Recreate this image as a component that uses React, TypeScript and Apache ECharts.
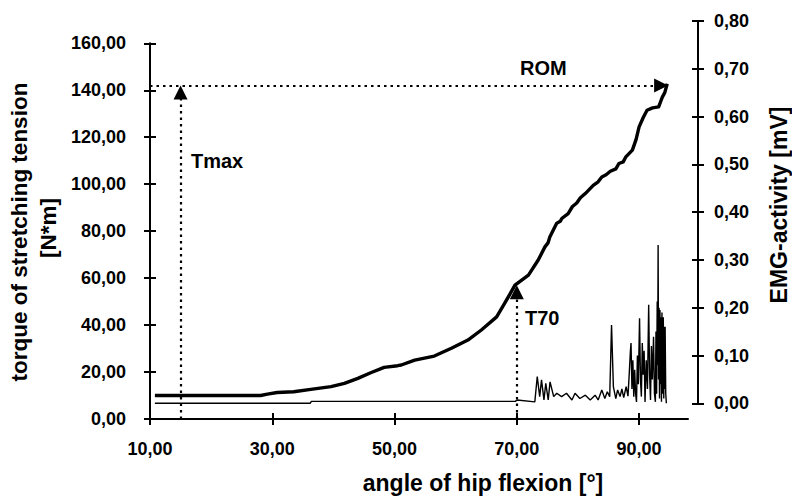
import React, { useEffect, useRef } from "react";
import * as echarts from "echarts";

// torque of stretching tension [N*m] vs angle of hip flexion [°]
const torqueAngle = [10.8, 20, 28.1, 29.2, 30.8, 33.5, 36.3, 39.6, 41.8, 44, 46.1, 48.3, 50.5, 51.1, 53.3, 56.5, 59.3, 62, 64.2, 66.7, 68, 69.7, 71.9, 73.5, 74.6, 75.1, 75.4, 76.5, 77.1, 77.4, 78.4, 79.1, 79.8, 80.4, 81.2, 82.5, 83.3, 83.9, 84.6, 85.3, 86.2, 86.7, 87.4, 87.8, 88.9, 89.5, 90, 90.7, 91.3, 92.2, 93.2, 93.5, 93.8, 94.2, 94.6];
const torqueValue = [10, 10, 10, 10.6, 11.3, 11.6, 12.6, 13.8, 15.2, 17.3, 19.7, 22, 22.7, 23, 25.1, 26.8, 30.1, 33.6, 37.9, 43.5, 49.2, 57, 61.3, 67.7, 73.3, 75, 77.5, 83.3, 84.2, 85.5, 87.5, 90.5, 92, 94.2, 96, 99.5, 101, 103.1, 104, 105.5, 106.5, 108.8, 109.5, 111.5, 114.5, 119, 124.4, 128.5, 131.5, 132.5, 132.9, 135, 137.1, 139, 142.8];

// EMG-activity [mV]
const emgAngle = [10.8, 36.3, 36.5, 70, 70.3, 73.2, 73.6, 74, 74.3, 74.7, 75, 75.4, 75.7, 76.3, 76.8, 77.6, 78.4, 79.3, 79.8, 80.6, 81.5, 82.3, 83.1, 83.6, 84.2, 84.7, 85.1, 85.5, 85.8, 86.1, 86.5, 86.8, 87.2, 87.5, 87.8, 88.2, 88.5, 88.7, 88.9, 89, 89.15, 89.3, 89.45, 89.6, 89.75, 89.9, 90.05, 90.2, 90.4, 90.55, 90.7, 90.85, 91, 91.15, 91.3, 91.5, 91.7, 91.9, 92.05, 92.2, 92.35, 92.5, 92.7, 92.85, 93, 93.1, 93.2, 93.3, 93.38, 93.45, 93.52, 93.6, 93.68, 93.75, 93.82, 93.9, 94, 94.08, 94.15, 94.22, 94.3, 94.38, 94.45, 94.52, 94.6, 94.7, 94.8];
const emgValue = [0, 0, 0.004, 0.004, 0.007, 0.003, 0.056, 0.014, 0.049, 0.007, 0.042, 0.007, 0.045, 0.014, 0.021, 0.014, 0.021, 0.007, 0.021, 0.01, 0.017, 0.007, 0.017, 0.007, 0.028, 0.01, 0.024, 0.014, 0.164, 0.035, 0.01, 0.028, 0.014, 0.03, 0.012, 0.035, 0.015, 0.06, 0.11, 0.126, 0.03, 0.09, 0.014, 0.07, 0.02, 0.003, 0.1, 0.04, 0.178, 0.05, 0.014, 0.126, 0.06, 0.11, 0.003, 0.09, 0.03, 0.206, 0.06, 0.007, 0.12, 0.05, 0.139, 0.02, 0.003, 0.15, 0.02, 0.213, 0.08, 0.331, 0.05, 0.2, 0.01, 0.195, 0.04, 0.18, 0.003, 0.19, 0.02, 0.16, 0.18, 0.01, 0.16, 0.03, 0.16, 0.021, 0];

const xTicks = [10, 30, 50, 70, 90];

// annotations: Tmax at 15°, ROM at ~94°, T70 at 70°
const tmaxAngle = 15;
const tmaxTorque = 139;
const romAngle = 93.6;
const romTorque = 142;
const t70Angle = 70;
const t70Torque = 54;

const fmt = (v: number) => v.toFixed(2).replace(".", ",");

const FONT = '"Liberation Sans", Arial, Helvetica, sans-serif';

export default function App() {
  const ref = useRef<HTMLDivElement>(null);
  useEffect(() => {
    if (!ref.current) return;
    const chart = echarts.init(ref.current, undefined, { renderer: "svg" });
    const black = "#000";
    const labelStyle = { color: black, fontFamily: FONT, fontWeight: "bold" as const, fontSize: 18 };
    const dotted = { color: black, width: 2.2, type: [2.5, 4] as number[] };
    chart.setOption({
      animation: false,
      backgroundColor: "#fff",
      grid: [
        { left: 150, right: 104, top: 43.3, bottom: 77, containLabel: false },
        { left: 150, right: 94, top: 21, bottom: 92.7, containLabel: false },
      ],
      xAxis: [
        {
          gridIndex: 0, type: "value", min: 10, max: 98, position: "bottom",
          axisLine: { show: true, onZero: false, lineStyle: { color: black, width: 2 } },
          axisTick: { show: true, inside: false, length: 6, customValues: xTicks, lineStyle: { color: black, width: 2 } },
          axisLabel: { ...labelStyle, customValues: xTicks, margin: 21, formatter: (v: number) => fmt(v) },
          splitLine: { show: false },
        },
        { gridIndex: 1, type: "value", min: 10, max: 100, show: false },
        {
          gridIndex: 0, type: "value", min: 10, max: 98, position: "bottom",
          axisLine: { show: false, onZero: false },
          axisTick: { show: true, inside: true, length: 6, customValues: xTicks, lineStyle: { color: black, width: 2 } },
          axisLabel: { show: false },
          splitLine: { show: false },
        },
      ],
      yAxis: [
        {
          gridIndex: 0, type: "value", min: 0, max: 160, interval: 20, position: "left",
          axisLine: { show: true, onZero: false, lineStyle: { color: black, width: 2 } },
          axisTick: { show: true, inside: false, length: 6, lineStyle: { color: black, width: 2 } },
          axisLabel: { ...labelStyle, margin: 24, formatter: (v: number) => fmt(v) },
          splitLine: { show: false },
        },
        {
          gridIndex: 1, type: "value", min: 0, max: 0.8, interval: 0.1, position: "right",
          axisLine: { show: true, onZero: false, lineStyle: { color: black, width: 2 } },
          axisTick: { show: true, inside: false, length: 6, lineStyle: { color: black, width: 2 } },
          axisLabel: { ...labelStyle, margin: 16, formatter: (v: number) => fmt(v) },
          splitLine: { show: false },
        },
        {
          gridIndex: 0, type: "value", min: 0, max: 160, interval: 20, position: "left",
          axisLine: { show: false, onZero: false },
          axisTick: { show: true, inside: true, length: 6, lineStyle: { color: black, width: 2 } },
          axisLabel: { show: false },
          splitLine: { show: false },
        },
        {
          gridIndex: 1, type: "value", min: 0, max: 0.8, interval: 0.1, position: "right",
          axisLine: { show: false, onZero: false },
          axisTick: { show: true, inside: true, length: 6, lineStyle: { color: black, width: 2 } },
          axisLabel: { show: false },
          splitLine: { show: false },
        },
      ],
      series: [
        {
          name: "torque",
          type: "line",
          xAxisIndex: 0,
          yAxisIndex: 0,
          data: torqueAngle.map((a, i) => [a, torqueValue[i]]),
          showSymbol: false,
          lineStyle: { color: black, width: 3.4, join: "round" },
          z: 3,
          markLine: {
            silent: true,
            symbol: ["none", "triangle"],
            symbolSize: 14,
            label: { show: false },
            lineStyle: dotted,
            itemStyle: { color: black },
            data: [
              [{ coord: [tmaxAngle, 0] }, { coord: [tmaxAngle, tmaxTorque] }],
              [{ coord: [10, romTorque] }, { coord: [romAngle, romTorque] }],
              [{ coord: [t70Angle, 0] }, { coord: [t70Angle, t70Torque] }],
            ],
          },
        },
        {
          name: "emg",
          type: "line",
          xAxisIndex: 1,
          yAxisIndex: 1,
          data: emgAngle.map((a, i) => [a, emgValue[i]]),
          showSymbol: false,
          lineStyle: { color: black, width: 1.4 },
          z: 2,
        },
      ],
      graphic: [
        { type: "text", x: 19, y: 232, rotation: Math.PI / 2, style: { text: "torque of stretching tension", font: `bold 22.5px ${FONT}`, fill: black, align: "center", verticalAlign: "middle" } },
        { type: "text", x: 48, y: 228, rotation: Math.PI / 2, style: { text: "[N*m]", font: `bold 22.5px ${FONT}`, fill: black, align: "center", verticalAlign: "middle" } },
        { type: "text", x: 779, y: 205, rotation: Math.PI / 2, style: { text: "EMG-activity [mV]", font: `bold 23px ${FONT}`, fill: black, align: "center", verticalAlign: "middle" } },
        { type: "text", x: 483, y: 483, style: { text: "angle of hip flexion [°]", font: `bold 23px ${FONT}`, fill: black, align: "center", verticalAlign: "middle" } },
        { type: "text", x: 191, y: 161, style: { text: "Tmax", font: `bold 20px ${FONT}`, fill: black, align: "left", verticalAlign: "middle" } },
        { type: "text", x: 520, y: 68, style: { text: "ROM", font: `bold 20px ${FONT}`, fill: black, align: "left", verticalAlign: "middle" } },
        { type: "text", x: 525, y: 318, style: { text: "T70", font: `bold 20px ${FONT}`, fill: black, align: "left", verticalAlign: "middle" } },
      ],
    });
    return () => chart.dispose();
  }, []);
  return <div ref={ref} style={{ position: "absolute", left: 0, top: 0, width: 792, height: 496 }} />;
}
